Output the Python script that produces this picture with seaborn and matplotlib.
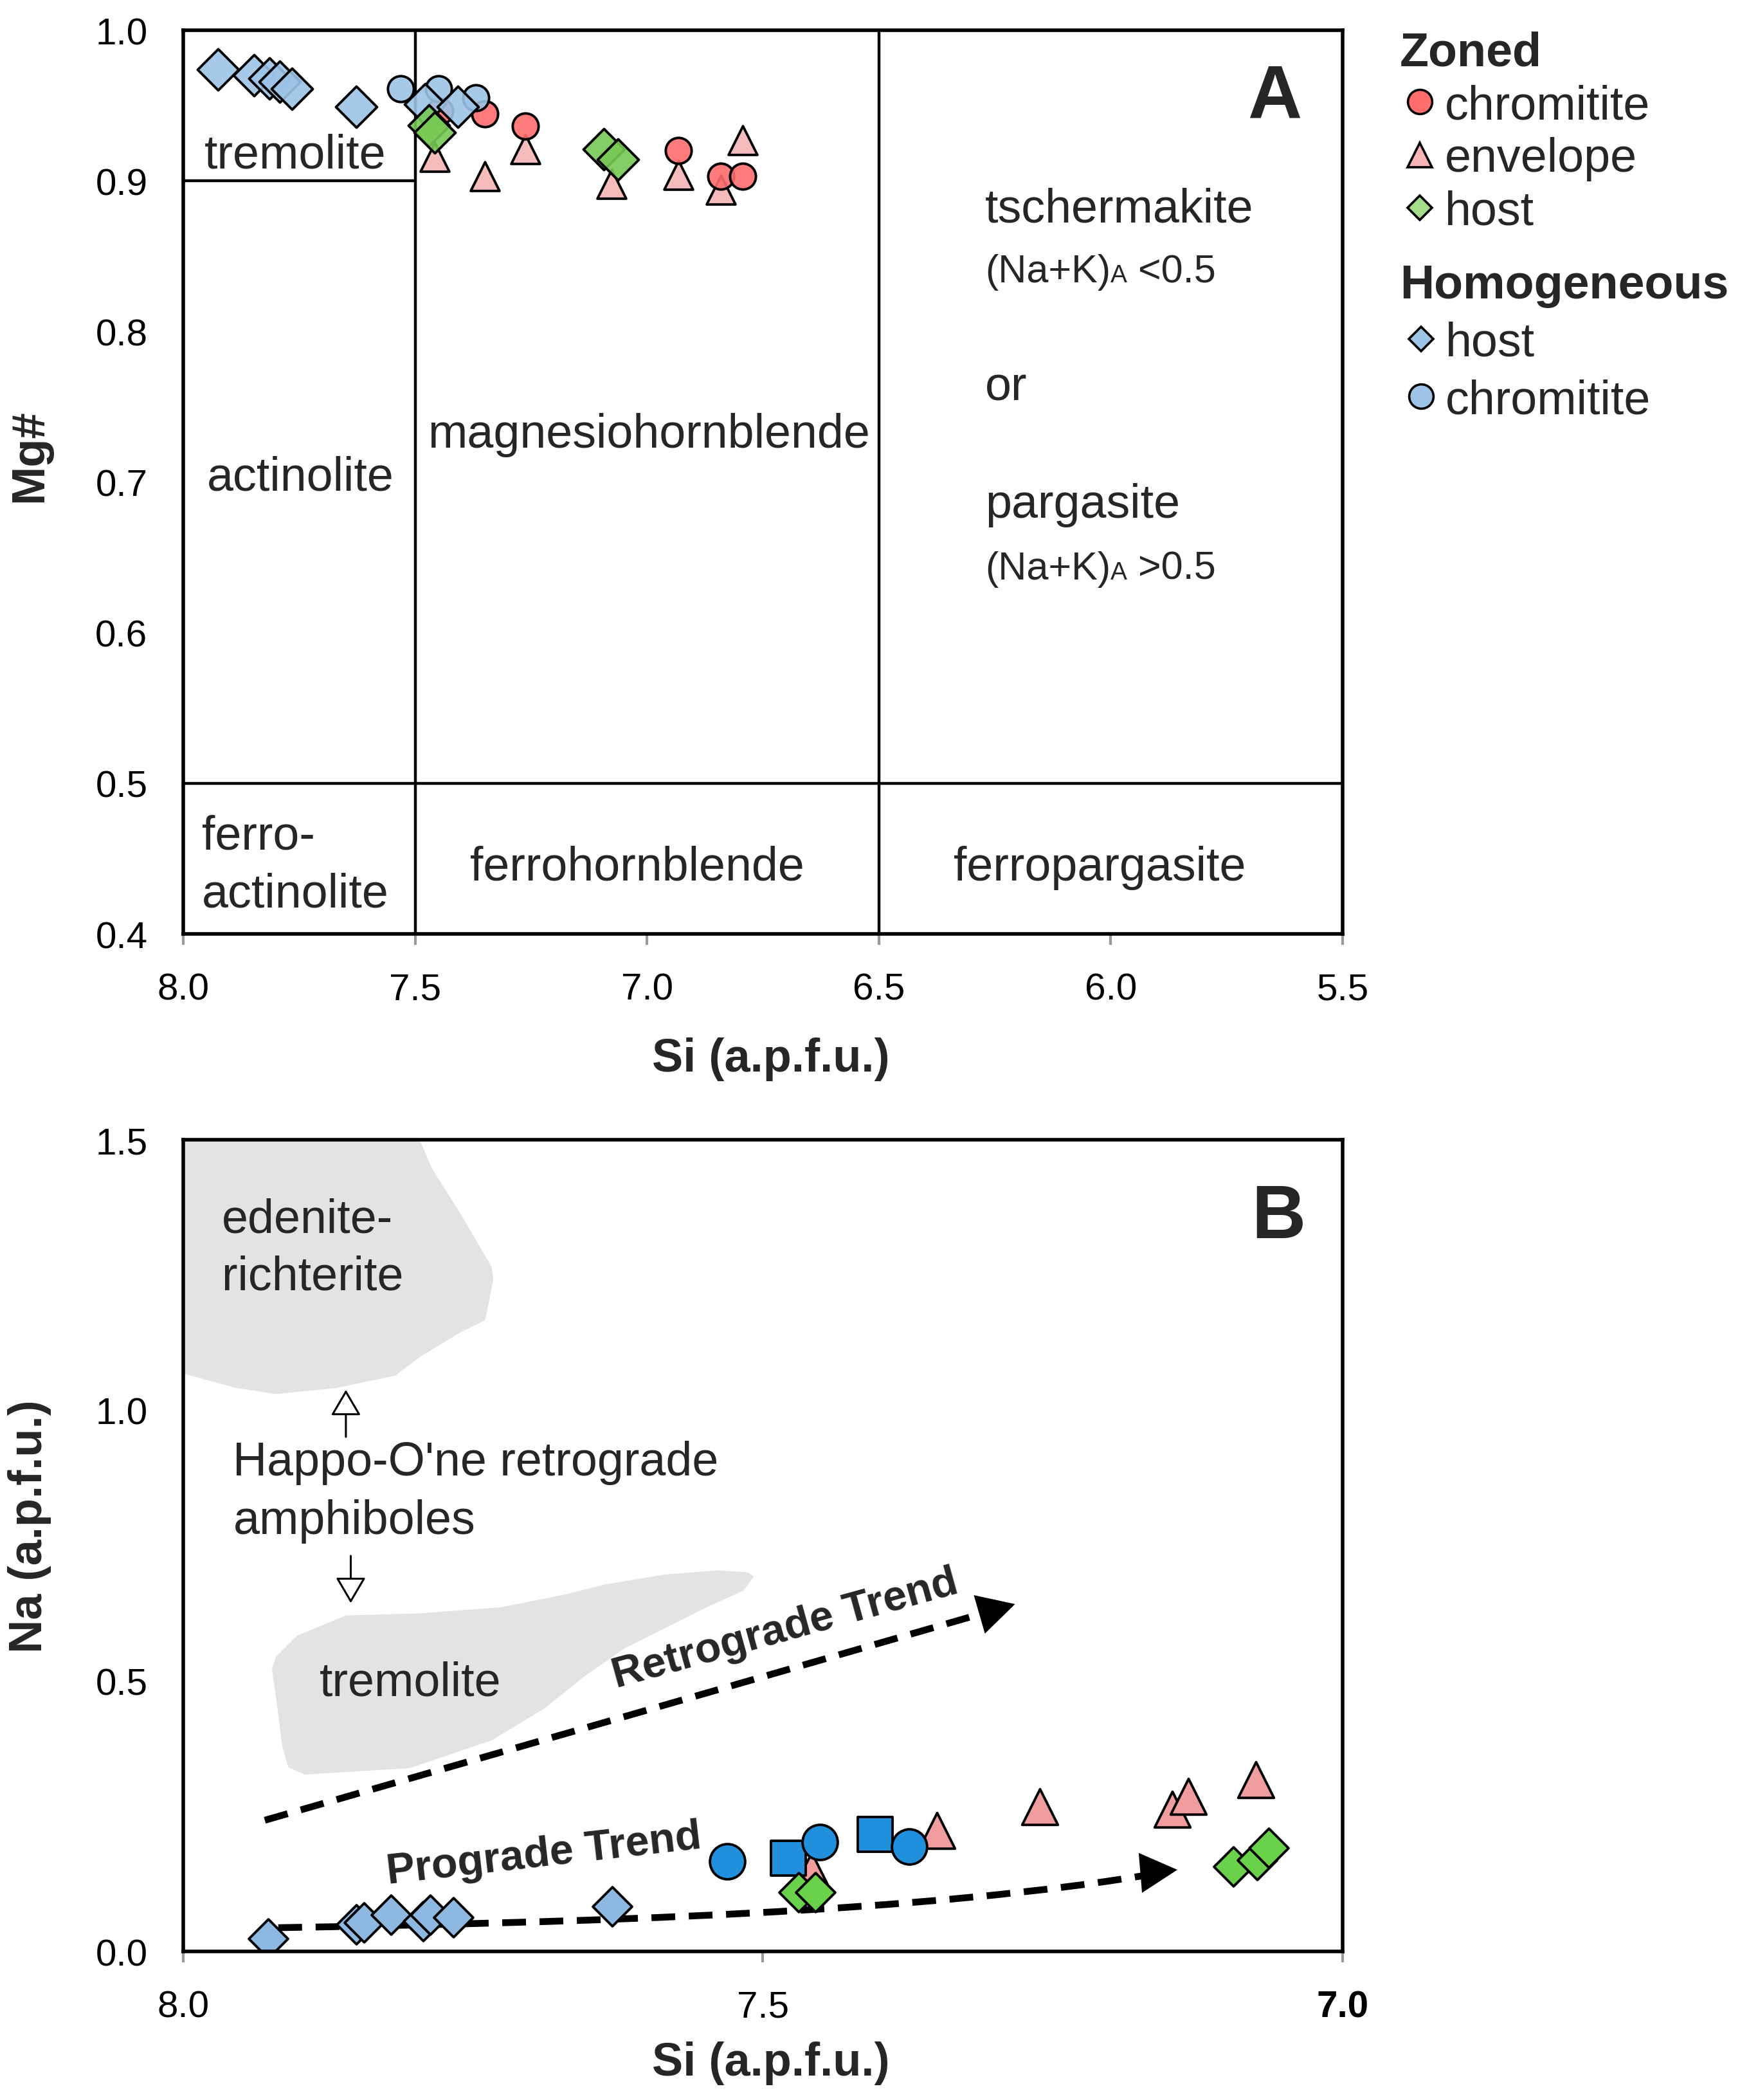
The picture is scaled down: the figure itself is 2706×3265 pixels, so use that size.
import numpy as np
import pandas as pd
import matplotlib
matplotlib.use("Agg")
import matplotlib.pyplot as plt
import seaborn as sns
from matplotlib.lines import Line2D
from matplotlib.path import Path
from matplotlib.patches import PathPatch, Polygon
from matplotlib.offsetbox import TextArea, HPacker, AnnotationBbox

# ------------------------------------------------------------------ data
# Panel A : Si (a.p.f.u.) vs Mg#
zoned_chromitite_si = [7.447, 7.350, 7.262, 6.932, 6.841, 6.793]
zoned_chromitite_mg = [0.946, 0.9445, 0.9365, 0.920, 0.903, 0.903]
zoned_envelope_si = [7.458, 7.350, 7.262, 7.076, 6.932, 6.841, 6.793]
zoned_envelope_mg = [0.916, 0.903, 0.921, 0.898, 0.904, 0.894, 0.927]
zoned_host_si = [7.470, 7.458, 7.093, 7.062]
zoned_host_mg = [0.937, 0.932, 0.921, 0.914]
homog_host_si = [7.925, 7.847, 7.814, 7.792, 7.766, 7.627, 7.479, 7.408]
homog_host_mg = [0.974, 0.970, 0.968, 0.966, 0.961, 0.949, 0.951, 0.949]
homog_chromitite_si = [7.531, 7.450, 7.369]
homog_chromitite_mg = [0.961, 0.961, 0.955]

# Panel B : Si (a.p.f.u.) vs Na (a.p.f.u.)
b_homog_host_si = [7.927, 7.851, 7.844, 7.821, 7.793, 7.787, 7.767, 7.630]
b_homog_host_na = [0.024, 0.050, 0.054, 0.068, 0.056, 0.068, 0.063, 0.083]
b_envelope_si = [7.458, 7.350, 7.261, 7.147, 7.133, 7.075]
b_envelope_na = [0.150, 0.223, 0.267, 0.263, 0.287, 0.317]
b_square_si = [7.478, 7.403]
b_square_na = [0.172, 0.216]
b_chromitite_si = [7.531, 7.451, 7.374]
b_chromitite_na = [0.166, 0.202, 0.194]
b_host_si = [7.469, 7.455, 7.094, 7.074, 7.064]
b_host_na = [0.109, 0.109, 0.157, 0.169, 0.192]

# classification field boundaries (panel A)
field_vertical_si = [7.5, 6.5]
tremolite_bound_si = [8.0, 7.5]
tremolite_bound_mg = [0.9, 0.9]
ferro_bound_si = [8.0, 5.5]
ferro_bound_mg = [0.5, 0.5]

# Happo-O'ne retrograde amphibole fields (panel B)
edenite_si = [8.0, 7.796, 7.7855, 7.761, 7.734, 7.7325, 7.736, 7.7395, 7.761,
              7.796, 7.817, 7.867, 7.920, 7.955, 8.0]
edenite_na = [1.5, 1.5, 1.447, 1.364, 1.265, 1.2426, 1.2047, 1.1668, 1.144,
              1.0985, 1.0644, 1.0417, 1.030, 1.0417, 1.068]
trem_si = [7.8952, 7.8048, 7.7339, 7.6880, 7.6546, 7.6192, 7.5485, 7.5166, 7.5078,
           7.5131, 7.5380, 7.5839, 7.6369, 7.6723, 7.7253, 7.7961, 7.8597, 7.9022,
           7.9199, 7.9235, 7.9181, 7.9146, 7.9093]
trem_na = [0.3269, 0.3388, 0.3902, 0.4497, 0.5075, 0.5603, 0.6362, 0.6668, 0.6930,
           0.7006, 0.7044, 0.6968, 0.6779, 0.6589, 0.6362, 0.6249, 0.6209, 0.5831,
           0.5452, 0.5224, 0.4391, 0.3785, 0.3405]

# trend arrows (panel B)
retro_si = [7.9296, 7.2958]
retro_na = [0.2425, 0.6338]
retro_tip = (7.2825, 0.642)
retro_head_from = (7.3278, 0.614)
pro_si = [7.918, 7.6589, 7.3539, 7.1562]   # cubic Bezier control points
pro_na = [0.044, 0.0535, 0.0713, 0.1458]
pro_tip = (7.1425, 0.151)
pro_head_from = (7.1900, 0.1425)

# ------------------------------------------------------------------ style
sns.set_theme(style="white")
plt.rcParams['font.family'] = ['Liberation Sans', 'DejaVu Sans']
plt.rcParams['axes.linewidth'] = 2.0

C_RED = '#ff6d6d'
C_PINK = '#f5b5b5'
C_GREEN = '#77c955'
C_LBLUE = '#9dc3e6'
C_B_LBLUE = '#8db8e2'
C_B_BLUE = '#2090dc'
C_B_SALMON = '#f29d9d'
C_B_GREEN = '#6ad14a'
C_GREY = '#e3e3e3'

fig = plt.figure(figsize=(13.53, 16.33), dpi=200)
axA = fig.add_axes([0.1053, 0.5551, 0.6663, 0.4302])
axB = fig.add_axes([0.1053, 0.0707, 0.6663, 0.3864])


def scat(ax, x, y, marker, s, color, z, alpha=1.0):
    rgba = matplotlib.colors.to_rgba(color, alpha)
    sns.scatterplot(x=x, y=y, marker=marker, s=s, color=rgba,
                    edgecolor='black', linewidth=1.4, zorder=z, ax=ax,
                    legend=False)


# ------------------------------------------------------------------ panel A
for v in field_vertical_si:
    axA.axvline(v, color='black', lw=1.6, zorder=1)
axA.plot(tremolite_bound_si, tremolite_bound_mg, color='black', lw=1.6, zorder=1)
axA.plot(ferro_bound_si, ferro_bound_mg, color='black', lw=1.6, zorder=1)

scat(axA, zoned_envelope_si, zoned_envelope_mg, '^', 260, C_PINK, 3, 0.9)
scat(axA, zoned_chromitite_si, zoned_chromitite_mg, 'o', 210, C_RED, 4, 0.9)
scat(axA, homog_chromitite_si, homog_chromitite_mg, 'o', 210, C_LBLUE, 5, 0.9)
scat(axA, homog_host_si, homog_host_mg, 'D', 265, C_LBLUE, 6, 0.9)
scat(axA, zoned_host_si, zoned_host_mg, 'D', 265, C_GREEN, 7, 0.9)

axA.set_xlim(8.0, 5.5)
axA.set_ylim(0.4, 1.0)
axA.set_xticks([8.0, 7.5, 7.0, 6.5, 6.0, 5.5])
axA.set_xticklabels(['8.0', '7.5', '7.0', '6.5', '6.0', '5.5'])
axA.set_yticks([0.4, 0.5, 0.6, 0.7, 0.8, 0.9, 1.0])
axA.set_yticklabels(['0.4', '0.5', '0.6', '0.7', '0.8', '0.9', '1.0'])

FS = 26.5
axA.text(7.759, 0.9087, 'tremolite', ha='center', va='baseline', fontsize=FS)
axA.text(7.7474, 0.6947, 'actinolite', ha='center', va='baseline', fontsize=FS)
axA.text(6.9954, 0.7231, 'magnesiohornblende', ha='center', va='baseline', fontsize=FS)
axA.text(7.9596, 0.4564, 'ferro-', ha='left', va='baseline', fontsize=FS)
axA.text(7.9596, 0.4182, 'actinolite', ha='left', va='baseline', fontsize=FS)
axA.text(7.0214, 0.4360, 'ferrohornblende', ha='center', va='baseline', fontsize=FS)
axA.text(6.0239, 0.4360, 'ferropargasite', ha='center', va='baseline', fontsize=FS)
axA.text(6.271, 0.873, 'tschermakite', ha='left', va='baseline', fontsize=FS)
axA.text(6.271, 0.7545, 'or', ha='left', va='baseline', fontsize=FS)
axA.text(6.271, 0.6767, 'pargasite', ha='left', va='baseline', fontsize=FS)


def na_k_label(ax, x, y, tail):
    box = HPacker(children=[TextArea('(Na+K)', textprops=dict(size=22)),
                            TextArea('A', textprops=dict(size=14)),
                            TextArea(' ' + tail, textprops=dict(size=22))],
                  align='baseline', pad=0, sep=0)
    ab = AnnotationBbox(box, (x, y), xycoords='data', box_alignment=(0, 0),
                        frameon=False, pad=0)
    ax.add_artist(ab)


na_k_label(axA, 6.271, 0.8332 - 0.0058, '<0.5')
na_k_label(axA, 6.271, 0.636 - 0.0058, '>0.5')

axA.text(5.647, 0.9422, 'A', ha='center', va='baseline', fontsize=42,
         fontweight='bold')

axA.set_xlabel('Si (a.p.f.u.)', fontsize=26, fontweight='bold')
axA.xaxis.set_label_coords(0.507, -0.138)
axA.xaxis.label.set_va('center')
axA.set_ylabel('Mg#', fontsize=26, fontweight='bold')
axA.yaxis.set_label_coords(-0.1326, 0.53)
axA.yaxis.label.set_va('center')
axA.yaxis.label.set_ha('center')

# ------------------------------------------------------------------ panel B
axB.add_patch(Polygon(np.column_stack([edenite_si, edenite_na]), closed=True,
                      facecolor=C_GREY, edgecolor='none', zorder=0.5))
axB.add_patch(Polygon(np.column_stack([trem_si, trem_na]), closed=True,
                      facecolor=C_GREY, edgecolor='none', zorder=0.5))

# retrograde trend
axB.plot(retro_si, retro_na, color='black', lw=3.8, dashes=(3.5, 2.0),
         solid_capstyle='butt', dash_capstyle='butt', zorder=2)
axB.annotate('', xy=retro_tip, xytext=retro_head_from,
             arrowprops=dict(arrowstyle='-|>,head_length=0.52,head_width=0.28',
                             mutation_scale=40, color='black', lw=0,
                             shrinkA=0, shrinkB=0), zorder=2)
# prograde trend
pro_path = Path(np.column_stack([pro_si, pro_na]),
                [Path.MOVETO, Path.CURVE4, Path.CURVE4, Path.CURVE4])
axB.add_patch(PathPatch(pro_path, facecolor='none', edgecolor='black', lw=3.8,
                        linestyle=(0, (3.5, 2.0)), capstyle='butt', zorder=2))
axB.annotate('', xy=pro_tip, xytext=pro_head_from,
             arrowprops=dict(arrowstyle='-|>,head_length=0.52,head_width=0.28',
                             mutation_scale=40, color='black', lw=0,
                             shrinkA=0, shrinkB=0), zorder=2)

scat(axB, b_homog_host_si, b_homog_host_na, 'D', 240, C_B_LBLUE, 3)
scat(axB, b_envelope_si, b_envelope_na, '^', 400, C_B_SALMON, 4)
scat(axB, b_square_si, b_square_na, 's', 388, C_B_BLUE, 5)
scat(axB, b_chromitite_si, b_chromitite_na, 'o', 388, C_B_BLUE, 6)
scat(axB, b_host_si, b_host_na, 'D', 240, C_B_GREEN, 7)

axB.text(7.9666, 1.330, 'edenite-', ha='left', va='baseline', fontsize=FS)
axB.text(7.9666, 1.2237, 'richterite', ha='left', va='baseline', fontsize=FS)
axB.text(7.957, 0.8803, "Happo-O'ne retrograde", ha='left', va='baseline', fontsize=FS)
axB.text(7.957, 0.7726, 'amphiboles', ha='left', va='baseline', fontsize=FS)
axB.text(7.8827, 0.4732, 'tremolite', ha='left', va='baseline', fontsize=FS)

hollow = dict(arrowstyle='-|>,head_length=0.34,head_width=0.2', mutation_scale=37,
              facecolor='white', edgecolor='black', lw=1.1, shrinkA=0, shrinkB=0)
axB.annotate('', xy=(7.8597, 1.038), xytext=(7.8597, 0.951), arrowprops=hollow)
axB.annotate('', xy=(7.8555, 0.6438), xytext=(7.8555, 0.731), arrowprops=hollow)

axB.text(7.481, 0.596, 'Retrograde Trend', rotation=15.5, ha='center', va='center',
         fontsize=24, fontweight='bold', rotation_mode='anchor')
axB.text(7.689, 0.1795, 'Prograde Trend', rotation=6.5, ha='center', va='center',
         fontsize=24, fontweight='bold', rotation_mode='anchor')
axB.text(7.0554, 1.3193, 'B', ha='center', va='baseline', fontsize=42,
         fontweight='bold')

axB.set_xlim(8.0, 7.0)
axB.set_ylim(0.0, 1.5)
axB.set_xticks([8.0, 7.5, 7.0])
axB.set_xticklabels(['8.0', '7.5', '7.0'])
axB.get_xticklabels()[2].set_fontweight('bold')
axB.set_yticks([0.0, 0.5, 1.0, 1.5])
axB.set_yticklabels(['0.0', '0.5', '1.0', '1.5'])

axB.set_xlabel('Si (a.p.f.u.)', fontsize=26, fontweight='bold')
axB.xaxis.set_label_coords(0.507, -0.137)
axB.xaxis.label.set_va('center')
axB.set_ylabel('Na (a.p.f.u.)', fontsize=26, fontweight='bold')
axB.yaxis.set_label_coords(-0.1326, 0.5246)
axB.yaxis.label.set_va('center')
axB.yaxis.label.set_ha('center')

for ax in (axA, axB):
    for sp in ax.spines.values():
        sp.set_color('black')
        sp.set_linewidth(2.0)
        sp.set_visible(True)
        sp.set_zorder(10)
    ax.tick_params(axis='x', bottom=True, direction='out', length=6, width=1.5,
                   color='#999999', pad=15.5, labelsize=21, labelcolor='black')
    ax.tick_params(axis='y', left=False, length=0, pad=20, labelsize=21,
                   labelcolor='black')
    ax.grid(False)

# ------------------------------------------------------------------ legend
h_zoned = [Line2D([], [], ls='', marker='o', ms=13.6, mfc=C_RED, mec='black', mew=1.3),
           Line2D([], [], ls='', marker='^', ms=14.0, mfc=C_PINK, mec='black', mew=1.3),
           Line2D([], [], ls='', marker='D', ms=9.5, mfc='#a6dc8a', mec='black', mew=1.3)]
h_homog = [Line2D([], [], ls='', marker='D', ms=9.5, mfc=C_LBLUE, mec='black', mew=1.3),
           Line2D([], [], ls='', marker='o', ms=13.6, mfc=C_LBLUE, mec='black', mew=1.3)]

leg_kw = dict(loc='upper left', frameon=False, fontsize=26.5,
              title_fontproperties={'weight': 'bold', 'size': 26.5},
              alignment='left', handlelength=0.83, handletextpad=0.12,
              labelspacing=0.18, borderpad=0, borderaxespad=0)
fig.legend(h_zoned, ['chromitite', 'envelope', 'host'], title='Zoned',
           bbox_to_anchor=(0.8045, 0.985), **leg_kw)
leg_kw2 = dict(leg_kw)
leg_kw2['labelspacing'] = 0.28
leg_kw2['handlelength'] = 0.9
leg_kw2['handletextpad'] = 0.06
fig.legend(h_homog, ['host', 'chromitite'], title='Homogeneous',
           bbox_to_anchor=(0.8045, 0.8745), **leg_kw2)

fig.savefig('out.png', dpi=200)
